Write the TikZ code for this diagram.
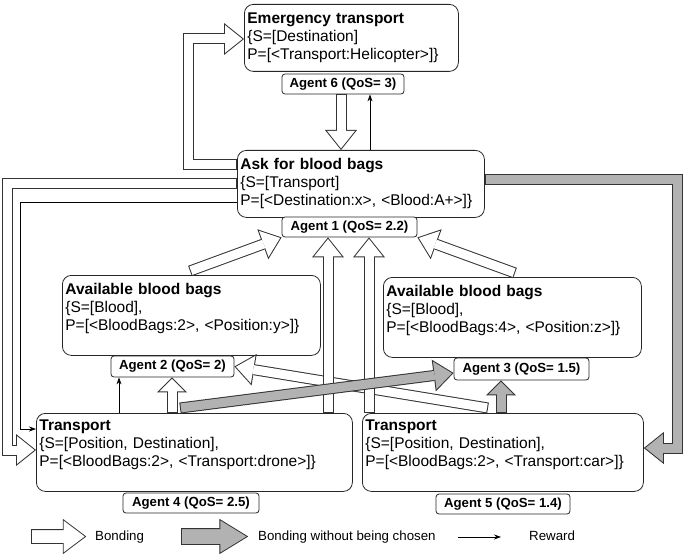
\documentclass[tikz,border=0pt]{standalone}
\usepackage{fontspec}
\setmainfont{Liberation Sans}
\usetikzlibrary{arrows.meta,shapes.arrows}

\begin{document}
\begin{tikzpicture}[x=1pt,y=-1pt]
  \tikzstyle{service}=[draw=black!85,line width=0.8pt,rounded corners=9pt,fill=white,anchor=north west,align=left,inner xsep=3pt,inner ysep=0pt,font=\fontsize{15.5}{18}\selectfont]
  \tikzstyle{agent}=[draw=black!85,line width=0.8pt,rounded corners=3pt,fill=white,inner sep=0pt,minimum height=20pt,font=\bfseries\fontsize{13.2}{15}\selectfont]
  \tikzstyle{bond}=[draw=black!80,line width=11pt,line join=miter,-{Triangle[length=20pt,width=32pt,line width=0pt]},postaction={draw=white,line width=9pt,shorten <=1pt,shorten >=1.6pt,-{Triangle[length=17.4pt,width=27.8pt,line width=0pt]}}]
  \tikzstyle{bond short}=[draw=black!80,line width=11pt,line join=miter,-{Triangle[length=15pt,width=30pt,line width=0pt]},postaction={draw=white,line width=9pt,shorten <=1pt,shorten >=1.4pt,-{Triangle[length=12.6pt,width=25.2pt,line width=0pt]}}]
  \tikzstyle{unchosen}=[draw=black!80,line width=11pt,line join=miter,-{Triangle[length=20pt,width=32pt,line width=0pt]},postaction={draw=gray!60,line width=9pt,shorten <=1pt,shorten >=1.6pt,-{Triangle[length=17.4pt,width=27.8pt,line width=0pt]}}]
  \tikzstyle{unchosen short}=[draw=black!80,line width=11pt,line join=miter,-{Triangle[length=15pt,width=30pt,line width=0pt]},postaction={draw=gray!60,line width=9pt,shorten <=1pt,shorten >=1.4pt,-{Triangle[length=12.6pt,width=25.2pt,line width=0pt]}}]
  \tikzstyle{reward}=[draw=black,line width=0.8pt,-{Stealth[length=7pt,width=5pt]}]
  \tikzstyle{bondkey}=[single arrow,draw=black!80,line width=0.8pt,fill=white,inner xsep=0pt,inner ysep=6.5pt,minimum height=54pt,single arrow head extend=10pt,single arrow head indent=0pt,single arrow tip angle=74]
  \tikzstyle{unchosenkey}=[bondkey,fill=gray!60,inner ysep=7.5pt,minimum height=66pt,single arrow head extend=9pt,single arrow tip angle=63]
  \tikzstyle{legend}=[anchor=west,inner sep=0pt,text height=10pt,text depth=3pt,font=\fontsize{13.3}{16}\selectfont]

  \useasboundingbox (0,0) rectangle (685,556);

  % services
  \node[service,text width=208pt,minimum height=67pt] (b6) at (244,4) {\textbf{Emergency transport}\\\{S=[Destination]\\P=[<Transport:Helicopter>]\}};
  \node[service,text width=241pt,minimum height=67pt] (b1) at (237,150) {\textbf{Ask for blood bags}\\\{S=[Transport]\\P=[<Destination:x>, <Blood:A+>]\}};
  \node[service,text width=252pt,minimum height=80pt] (b2) at (62,275) {\textbf{Available blood bags}\\\{S=[Blood],\\P=[<BloodBags:2>, <Position:y>]\}\\\mbox{}};
  \node[service,text width=252pt,minimum height=80pt] (b3) at (383,277) {\textbf{Available blood bags}\\\{S=[Blood],\\P=[<BloodBags:4>, <Position:z>]\}\\\mbox{}};
  \node[service,text width=310pt,minimum height=78pt] (b4) at (36,413) {\textbf{Transport}\\\{S=[Position, Destination],\\P=[<BloodBags:2>, <Transport:drone>]\}\\\mbox{}};
  \node[service,text width=275pt,minimum height=78pt] (b5) at (362,413) {\textbf{Transport}\\\{S=[Position, Destination],\\P=[<BloodBags:2>, <Transport:car>]\}\\\mbox{}};

  % agents
  \node[agent,minimum width=122pt] (a6) at (343,84) {Agent 6 (QoS= 3)};
  \node[agent,minimum width=135pt] (a1) at (349.5,227) {Agent 1 (QoS= 2.2)};
  \node[agent,minimum width=123pt,minimum height=21pt] (a2) at (172.5,366.5) {Agent 2 (QoS= 2)};
  \node[agent,minimum width=135pt,minimum height=22pt] (a3) at (521.5,369) {Agent 3 (QoS= 1.5)};
  \node[agent,minimum width=136pt] (a4) at (191,503) {Agent 4 (QoS= 2.5)};
  \node[agent,minimum width=134pt] (a5) at (503,504) {Agent 5 (QoS= 1.4)};

  % bonding
  \draw[bond] (b1.west |- 0,165) -| (188,39) -- (b6.west |- 0,39);
  \draw[bond] (a6.south -| 341,0) -- (b1.north -| 341,0);
  \draw[bond] (b1.west |- 0,184) -| (7,450) -- (b4.west |- 0,450);
  \draw[unchosen] (b1.east |- 0,180) -| (677,448) -- (b5.east |- 0,448);
  \draw[bond] ([yshift=4pt]b2.north -| 190,0) -- (a1.south west);
  \draw[bond] ([yshift=4pt]b3.north -| 515,0) -- (a1.south east);
  \draw[bond] ([yshift=5pt]b5.north -| 488,0) -- (a2.east);
  \draw[bond] (b4.north -| 328,0) -- (a1.south -| 328,0);
  \draw[bond] (b5.north -| 369,0) -- (a1.south -| 369,0);
  \draw[unchosen] ([yshift=5pt]b4.north -| 180,0) -- ([yshift=-4pt]a3.west);
  \draw[bond short] (b4.north -| 172,0) -- (a2.south -| 172,0);
  \draw[unchosen short] (b5.north -| 501,0) -- (a3.south -| 501,0);

  % rewards
  \draw[reward] (b1.north -| 370,0) -- (a6.south -| 370,0);
  \draw[reward] (b1.west |- 0,202) -| (20,429) -- (b4.west |- 0,429);
  \draw[reward] (b4.north -| 119,0) -- (a2.south -| 119,0);

  % legend
  \node[bondkey] (k1) at (54,536.5) {};
  \node[legend] (t1) at (95,537) {Bonding};
  \node[unchosenkey] (k2) at (208,536.5) {};
  \node[legend] (t2) at (258,537) {Bonding without being chosen};
  \node[legend] (t3) at (529,537) {Reward};
  \draw[reward] ([xshift=22pt]t2.east) -- ([xshift=-28pt]t3.west);
\end{tikzpicture}
\end{document}
